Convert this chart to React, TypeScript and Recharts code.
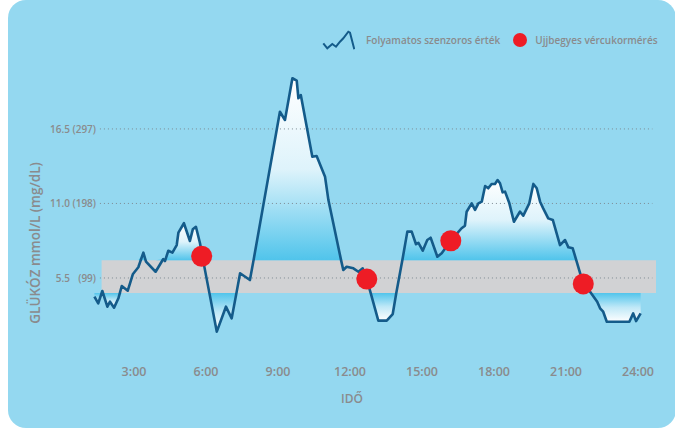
import React from "react";
import {
  ComposedChart,
  Area,
  Line,
  Scatter,
  XAxis,
  YAxis,
  ReferenceArea,
  ReferenceLine,
  Legend,
} from "recharts";

// sensor readings: hour of day -> glucose (mmol/L)
const HOURS = [
  1.35, 1.51, 1.68, 1.89, 2.0, 2.17, 2.35, 2.49, 2.74, 2.95, 3.18, 3.39, 3.5, 3.9, 4.22, 4.29, 4.43,
  4.6, 4.78, 4.85, 5.08, 5.33, 5.45, 5.58, 5.75, 5.88, 6.14, 6.45, 6.83, 7.07, 7.27, 7.42, 7.83,
  7.98, 9.08, 9.29, 9.6, 9.78, 9.85, 9.95, 10.43, 10.61, 10.96, 11.1, 11.63, 11.72, 11.86, 12.14,
  12.35, 12.53, 12.7, 12.86, 13.18, 13.53, 13.78, 13.93, 14.18, 14.39, 14.57, 14.75, 14.85, 15.03,
  15.22, 15.36, 15.64, 15.82, 16.2, 16.65, 16.79, 16.86, 17.07, 17.21, 17.35, 17.49, 17.63, 17.76,
  17.9, 18.04, 18.15, 18.25, 18.36, 18.46, 18.64, 18.83, 19.08, 19.22, 19.47, 19.64, 19.78, 19.92,
  20.05, 20.26, 20.45, 20.75, 20.96, 21.1, 21.28, 21.43, 21.72, 22.04, 22.3, 22.42, 22.55, 22.7,
  23.64, 23.8, 23.92, 24.11,
];
const GLUCOSE = [
  4.12, 3.63, 4.54, 3.38, 3.75, 3.31, 4.0, 4.91, 4.56, 5.77, 6.29, 7.37, 6.7, 5.96, 6.9, 6.75, 7.51,
  7.37, 7.93, 8.84, 9.54, 8.23, 9.09, 9.28, 8.06, 6.8, 4.4, 1.54, 3.38, 2.52, 4.4, 5.85, 5.35,
  6.8, 17.77, 17.16, 20.24, 20.06, 18.76, 19.0, 14.45, 14.5, 12.97, 11.25, 6.8, 6.09, 6.33, 6.21,
  5.96, 6.21, 5.42, 4.4, 2.35, 2.35, 2.84, 4.4, 6.8, 8.92, 8.92, 7.99, 8.1, 7.51,
  8.3, 8.47, 7.07, 7.32, 8.25, 9.17, 9.36, 10.39, 11.01, 10.52, 11.01, 11.13, 12.29, 12.12,
  12.44, 12.44, 12.73, 12.49, 11.82, 11.87, 11.01, 9.65, 10.39, 10.1, 11.01, 12.44, 12.12, 11.13,
  10.64, 9.9, 9.78, 7.93, 8.3, 7.76, 7.69, 6.8, 5.06, 4.4, 3.75, 3.26, 3.01, 2.27,
  2.27, 2.89, 2.32, 2.89,
];

// finger-prick measurements
const FINGER_HOURS = [5.82, 12.7, 16.2, 21.72];
const FINGER_VALUES = [7.1, 5.42, 8.25, 5.06];

// target range band
const TARGET_LOW = 4.4;
const TARGET_HIGH = 6.8;
const BAND_START = 1.65;
const BAND_END = 24.75;

// stretches above / below the target band, shaded separately
const HIGH_SPANS = [
  [3.18, 5.88],
  [7.98, 11.63],
  [14.18, 21.43],
];
const LOW_SPANS = [
  [1.35, 2.95],
  [6.14, 7.27],
  [12.86, 13.93],
  [22.04, 24.11],
];

const X_TICKS = [3, 6, 9, 12, 15, 18, 21, 24];
const Y_TICKS = [5.5, 11, 16.5];
const Y_TICK_MGDL = ["(99)", "(198)", "(297)"];
const GRID_START = 1.58;
const GRID_END = 24.6;

const FONT = "'Open Sans', 'Noto Sans', sans-serif";
const GREY = "#8a8b8d";
const LINE_BLUE = "#145b8a";
const DOT_RED = "#ee1c25";

const inSpan = (h: number, s: number[]) => h >= s[0] - 1e-6 && h <= s[1] + 1e-6;

const data = HOURS.map((h, i) => {
  const v = GLUCOSE[i];
  const row: any = { h, v };
  HIGH_SPANS.forEach((s, k) => {
    row[`hi${k}`] = inSpan(h, s) ? Math.max(v, TARGET_HIGH) : null;
  });
  LOW_SPANS.forEach((s, k) => {
    row[`lo${k}`] = inSpan(h, s) ? Math.min(v, TARGET_LOW) : null;
  });
  return row;
});

const fingerData = FINGER_HOURS.map((h, i) => ({ h, v: FINGER_VALUES[i] }));

const XTick = ({ x, y, payload }: any) => (
  <text x={x} y={y + 23} textAnchor="middle" fill={GREY} fontFamily={FONT} fontSize={12.5} fontWeight={600}>
    {`${payload.value}:00`}
  </text>
);

const YTick = ({ x, y, payload }: any) => {
  const idx = Y_TICKS.indexOf(payload.value);
  return (
    <g fill={GREY} fontFamily={FONT} fontSize={10} fontWeight={600}>
      <text x={x + 8} y={y + 4} textAnchor="end">
        {payload.value.toFixed(1)}
      </text>
      <text x={x + 34} y={y + 4} textAnchor="end">
        {Y_TICK_MGDL[idx]}
      </text>
    </g>
  );
};

const yLabel = () => (
  <text
    x={35}
    y={243}
    dy="0.35em"
    transform="rotate(-90, 35, 243)"
    textAnchor="middle"
    fill={GREY}
    fontFamily={FONT}
    fontSize={13.5}
    fontWeight={600}
  >
    GLÜKÓZ mmol/L  (mg/dL)
  </text>
);

const xLabel = () => (
  <text x={352} y={403} textAnchor="middle" fill={GREY} fontFamily={FONT} fontSize={12} fontWeight={600}>
    IDŐ
  </text>
);

const LegendBox = () => (
  <div
    style={{
      display: "flex",
      alignItems: "center",
      fontFamily: FONT,
      fontSize: 10,
      fontWeight: 600,
      color: GREY,
      whiteSpace: "nowrap",
    }}
  >
    <svg width={34} height={22} style={{ display: "block" }}>
      <polyline
        points="2.3,14.3 6.3,19.3 11.3,15 15,17.7 19,12.7 22.3,9.3 27.3,2.7 29,3.7 33.3,20.3"
        fill="none"
        stroke={LINE_BLUE}
        strokeWidth={2}
      />
    </svg>
    <span style={{ marginLeft: 11 }}>Folyamatos szenzoros érték</span>
    <svg width={16} height={16} style={{ display: "block", marginLeft: 12 }}>
      <circle cx={8} cy={8} r={7} fill={DOT_RED} />
    </svg>
    <span style={{ marginLeft: 7 }}>Ujjbegyes vércukormérés</span>
  </div>
);

export default function App() {
  return (
    <div style={{ position: "absolute", left: 0, top: 0, width: 675, height: 429 }}>
      <div
        style={{
          position: "absolute",
          left: 8,
          top: 0,
          width: 668,
          height: 428,
          borderRadius: 18,
          background: "#94d8f0",
        }}
      />
      <div style={{ position: "absolute", left: 0, top: 0 }}>
        <ComposedChart
          width={675}
          height={429}
          data={data}
          margin={{ top: 54.4, right: 13, bottom: 46.5, left: 0 }}
        >
          <defs>
            <linearGradient id="gHigh" x1="0" y1="0" x2="0" y2="1">
              <stop offset="0%" stopColor="#ffffff" />
              <stop offset="50%" stopColor="#def3fb" />
              <stop offset="100%" stopColor="#50c4eb" />
            </linearGradient>
            <linearGradient id="gLow" x1="0" y1="0" x2="0" y2="1">
              <stop offset="0%" stopColor="#50c4eb" />
              <stop offset="50%" stopColor="#bfe8f7" />
              <stop offset="100%" stopColor="#ffffff" />
            </linearGradient>
          </defs>
          <XAxis
            dataKey="h"
            type="number"
            domain={[0, 25]}
            ticks={X_TICKS}
            interval={0}
            axisLine={false}
            tickLine={false}
            tickSize={0}
            tickMargin={0}
            height={30}
            tick={<XTick />}
            label={xLabel}
          />
          <YAxis
            type="number"
            domain={[0, 22]}
            ticks={Y_TICKS}
            interval={0}
            axisLine={false}
            tickLine={false}
            tickSize={0}
            tickMargin={0}
            width={62}
            tick={<YTick />}
            label={yLabel}
          />
          <ReferenceArea
            x1={BAND_START}
            x2={BAND_END}
            y1={TARGET_LOW}
            y2={TARGET_HIGH}
            fill="#d1d2d4"
            fillOpacity={1}
            stroke="none"
            ifOverflow="visible"
            zIndex={50}
          />
          {HIGH_SPANS.map((_, k) => (
            <Area
              key={`hi${k}`}
              dataKey={`hi${k}`}
              type="linear"
              baseValue={TARGET_HIGH}
              stroke="none"
              fill="url(#gHigh)"
              fillOpacity={1}
              dot={false}
              activeDot={false}
              isAnimationActive={false}
            />
          ))}
          {LOW_SPANS.map((_, k) => (
            <Area
              key={`lo${k}`}
              dataKey={`lo${k}`}
              type="linear"
              baseValue={TARGET_LOW}
              stroke="none"
              fill="url(#gLow)"
              fillOpacity={1}
              dot={false}
              activeDot={false}
              isAnimationActive={false}
            />
          ))}
          {Y_TICKS.map((t) => (
            <ReferenceLine
              key={t}
              segment={[
                { x: GRID_START, y: t },
                { x: GRID_END, y: t },
              ]}
              stroke="#7d8a92"
              strokeWidth={1}
              strokeDasharray="1 3"
              ifOverflow="visible"
              zIndex={200}
            />
          ))}
          <Line
            dataKey="v"
            type="linear"
            stroke={LINE_BLUE}
            strokeWidth={2.6}
            strokeLinejoin="round"
            dot={false}
            activeDot={false}
            isAnimationActive={false}
          />
          <Scatter
            data={fingerData}
            dataKey="v"
            fill={DOT_RED}
            isAnimationActive={false}
            shape={(p: any) => <circle cx={p.cx} cy={p.cy} r={10.5} fill={DOT_RED} />}
          />
          <Legend
            layout="horizontal"
            verticalAlign="middle"
            align="center"
            content={<LegendBox />}
            wrapperStyle={{ top: 29, left: 321, width: "auto", height: 22 }}
          />
        </ComposedChart>
      </div>
    </div>
  );
}
